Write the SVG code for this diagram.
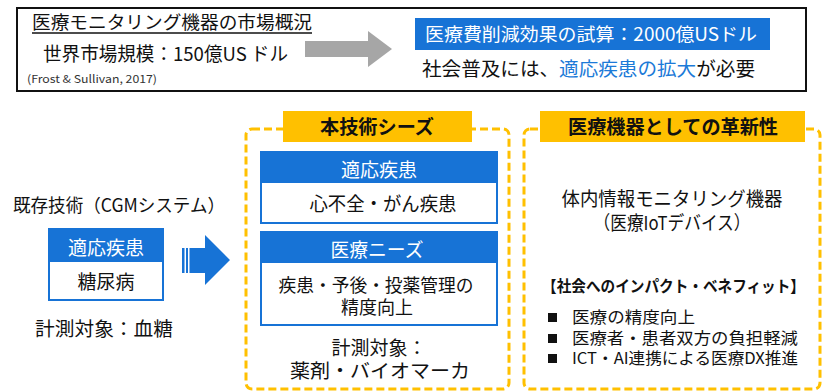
<svg xmlns="http://www.w3.org/2000/svg" width="824" height="391" viewBox="0 0 824 391">
<style>
text{font-family:"Noto Sans CJK JP","Noto Sans",sans-serif;fill:#111;}
.t18{font-size:18px;}
.t19{font-size:19px;}
.t17{font-size:17px;}
.t16{font-size:16px;}
.w{fill:#fff;}
.b{font-weight:bold;}
.c{text-anchor:middle;}
.blue{fill:#1773D6;}
.box{fill:#fff;stroke:#1773D6;stroke-width:2;}
.dash{fill:none;stroke:#FFC000;stroke-width:3;stroke-dasharray:8 4;}
.hdr{fill:#FFC000;}
</style>
<rect width="824" height="391" fill="#fff"/>

<g id="market-box">
<rect x="17" y="8" width="789" height="83" fill="#fff" stroke="#111" stroke-width="2"/>
<text class="t18" x="32" y="29" textLength="280" lengthAdjust="spacingAndGlyphs">医療モニタリング機器の市場概況</text>
<line x1="32" y1="33" x2="312" y2="33" stroke="#111" stroke-width="1.5"/>
<text class="t19" x="43" y="61" textLength="245" lengthAdjust="spacingAndGlyphs">世界市場規模：150億US ドル</text>
<text x="27" y="83" font-size="11" textLength="130" lengthAdjust="spacingAndGlyphs" style="fill:#333">(Frost &amp; Sullivan, 2017)</text>
</g>

<g id="cost-box">
<rect x="415" y="18" width="355" height="32" class="blue"/>
<text class="t18 w" x="425" y="41" textLength="332" lengthAdjust="spacingAndGlyphs">医療費削減効果の試算：2000億USドル</text>
<text class="t19" x="422" y="76" textLength="333" lengthAdjust="spacingAndGlyphs">社会普及には、<tspan style="fill:#1C7AD8">適応疾患の拡大</tspan>が必要</text>
</g>

<g id="connectors">
<polygon points="305,41 368,41 368,31 392,49 368,67 368,57 305,57" fill="#A6A6A6"/>
<rect x="182" y="248" width="2.5" height="25" class="blue"/>
<rect x="186" y="248" width="2" height="25" class="blue"/>
<polygon points="189.5,248 205,248 205,235 230,260 205,285 205,273 189.5,273" class="blue"/>
</g>

<g id="existing-tech">
<text class="t18" x="13" y="212" textLength="212" lengthAdjust="spacingAndGlyphs">既存技術（CGMシステム）</text>
<rect x="49" y="229" width="114" height="71" class="box"/>
<rect x="49" y="229" width="114" height="33" class="blue"/>
<text class="t19 w c" x="106" y="255">適応疾患</text>
<text class="t19 c" x="106" y="289">糖尿病</text>
<text class="t19" x="35" y="336" textLength="138" lengthAdjust="spacingAndGlyphs">計測対象：血糖</text>
</g>

<g id="seeds">
<rect x="246" y="129" width="263" height="260" rx="6" class="dash"/>
<rect x="283" y="111" width="189" height="31" class="hdr"/>
<text class="t19 b c" x="377" y="134" textLength="114" lengthAdjust="spacingAndGlyphs">本技術シーズ</text>
<rect x="261" y="152" width="236" height="71" class="box"/>
<rect x="261" y="152" width="236" height="31" class="blue"/>
<text class="t19 w c" x="379" y="177">適応疾患</text>
<text class="t19 c" x="383" y="211" textLength="147" lengthAdjust="spacingAndGlyphs">心不全・がん疾患</text>
<rect x="261" y="232" width="236" height="93" class="box"/>
<rect x="261" y="232" width="236" height="31" class="blue"/>
<text class="t19 w c" x="377" y="257" textLength="93" lengthAdjust="spacingAndGlyphs">医療ニーズ</text>
<text class="t18 c" x="376" y="292" textLength="195" lengthAdjust="spacingAndGlyphs">疾患・予後・投薬管理の</text>
<text class="t18 c" x="377" y="314">精度向上</text>
<text class="t19 c" x="379" y="355">計測対象：</text>
<text class="t19 c" x="380" y="378" textLength="180" lengthAdjust="spacingAndGlyphs">薬剤・バイオマーカ</text>
</g>

<g id="innovation">
<rect x="524" y="129" width="296" height="260" rx="6" class="dash"/>
<rect x="540" y="111" width="265" height="31" class="hdr"/>
<text class="t19 b c" x="673" y="134" textLength="210" lengthAdjust="spacingAndGlyphs">医療機器としての革新性</text>
<text class="t19 c" x="672" y="206" textLength="221" lengthAdjust="spacingAndGlyphs">体内情報モニタリング機器</text>
<text class="t19 c" x="672" y="230" textLength="157" lengthAdjust="spacingAndGlyphs">（医療IoTデバイス）</text>
<text class="t16 b" x="542" y="292" textLength="263" lengthAdjust="spacingAndGlyphs">【社会へのインパクト・ベネフィット】</text>
<rect x="548" y="313" width="9" height="9" fill="#111"/>
<text class="t16" x="572" y="323" textLength="123" lengthAdjust="spacingAndGlyphs">医療の精度向上</text>
<rect x="548" y="334" width="9" height="9" fill="#111"/>
<text class="t16" x="572" y="344" textLength="226" lengthAdjust="spacingAndGlyphs">医療者・患者双方の負担軽減</text>
<rect x="548" y="354" width="9" height="9" fill="#111"/>
<text class="t16" x="572" y="364" textLength="226" lengthAdjust="spacingAndGlyphs">ICT・AI連携による医療DX推進</text>
</g>
</svg>
